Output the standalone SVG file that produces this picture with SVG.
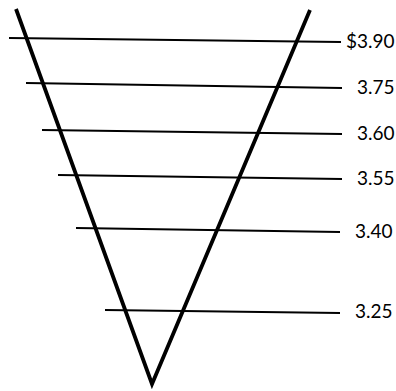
<svg xmlns="http://www.w3.org/2000/svg" width="396" height="391" viewBox="0 0 396 391">
<style>
.h{stroke:#000;stroke-width:2;fill:none}
.v{stroke:#000;stroke-width:3.8;fill:none;stroke-linejoin:miter}
text{font-family:Lato,"Liberation Sans",Arial,sans-serif;font-size:19px;fill:#000}
</style>
<rect width="396" height="391" fill="#fff"/>
<g id="lines">
<line class="h" x1="9" y1="38" x2="341" y2="42"/>
<line class="h" x1="26" y1="83" x2="342" y2="88"/>
<line class="h" x1="42" y1="130" x2="342" y2="134"/>
<line class="h" x1="58" y1="175" x2="342" y2="179"/>
<line class="h" x1="76" y1="228" x2="340" y2="232"/>
<line class="h" x1="105" y1="310" x2="340" y2="313"/>
</g>
<g id="funnel">
<polyline class="v" points="16,9 152,384 310,10"/>
</g>
<g id="labels">
<text x="346" y="48">$3.90</text>
<text x="357" y="94">3.75</text>
<text x="357" y="140">3.60</text>
<text x="357" y="185">3.55</text>
<text x="355" y="238">3.40</text>
<text x="355" y="318">3.25</text>
</g>
</svg>
